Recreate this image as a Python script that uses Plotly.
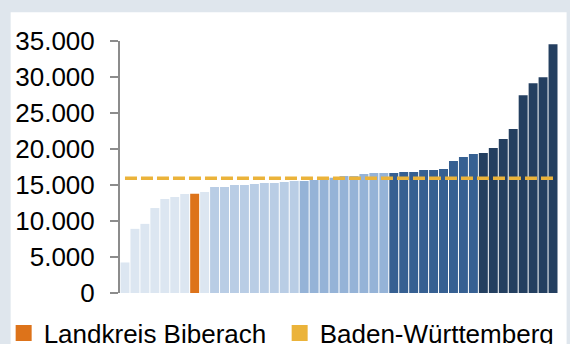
import plotly.graph_objects as go

# ---- data ----
ranks = list(range(1, 45))  # 44 Stadt- und Landkreise, sorted ascending
values = [4240, 8910, 9600, 11800, 13070, 13350, 13760, 13780, 14040,
          14730, 14730, 15000, 15000, 15150, 15280, 15280, 15420, 15560,
          15560, 15700, 15880, 16020, 16260, 16260, 16530, 16670, 16670,
          16670, 16810, 16810, 17090, 17090, 17220, 18330, 18890, 19300,
          19440, 20130, 21380, 22770, 27480, 29140, 29970, 34540]
highlight_rank = 8  # Landkreis Biberach
bw_value = 15930    # Baden-Württemberg
legend_names = ["Landkreis Biberach", "Baden-Württemberg"]
y_ticks = [0, 5000, 10000, 15000, 20000, 25000, 30000, 35000]

# ---- style ----
group_colors = ["#dce6f1", "#b9cde5", "#95b3d7", "#366092", "#243f60"]
orange = "#dd731a"
yellow = "#ebb33a"
font_family = "Liberation Sans, Arial, sans-serif"

bar_colors = []
for r in ranks:
    if r == highlight_rank:
        bar_colors.append(orange)
    else:
        bar_colors.append(group_colors[min((r - 1) // 9, 4)])

W, H = 570, 344
ml, mr, mt, mb = 119.5, 11.9, 40.7, 50.7
pw, ph = W - ml - mr, H - mt - mb

def px_x(x):
    return (x - ml) / pw

def px_y(y):
    return (H - mb - y) / ph

fig = go.Figure()
fig.add_trace(go.Bar(x=ranks, y=values, marker=dict(color=bar_colors, line=dict(width=0)),
                     showlegend=False, hoverinfo="y"))
fig.add_trace(go.Scatter(x=ranks, y=[bw_value] * len(ranks), mode="lines",
                         line=dict(color=yellow, width=3.5, dash="12px,4px"),
                         showlegend=False, hoverinfo="skip"))
fig.add_trace(go.Scatter(x=[None], y=[None], mode="markers", name=legend_names[0],
                         marker=dict(symbol="square", size=16, color=orange),
                         legendwidth=231))
fig.add_trace(go.Scatter(x=[None], y=[None], mode="markers", name=legend_names[1],
                         marker=dict(symbol="square", size=16, color=yellow),
                         legendwidth=228))

fig.update_layout(
    width=W, height=H,
    margin=dict(l=ml, r=mr, t=mt, b=mb, pad=0, autoexpand=False),
    paper_bgcolor="#dfe6ed", plot_bgcolor="rgba(0,0,0,0)",
    font=dict(family=font_family, color="#000000", size=26),
    separators=",.",
    bargap=0.1,
    showlegend=True,
    legend=dict(orientation="h", x=px_x(3), xanchor="left", y=px_y(310), yanchor="top",
                font=dict(size=26, family=font_family, color="#000000"),
                bgcolor="rgba(0,0,0,0)", borderwidth=0, itemwidth=30,
                traceorder="normal"),
    shapes=[dict(type="rect", xref="paper", yref="paper",
                 x0=px_x(10), x1=px_x(566.7), y0=px_y(360), y1=px_y(12),
                 fillcolor="#ffffff", line=dict(width=0), layer="below")],
    xaxis=dict(range=[0.5, 44.5], showticklabels=False, showline=False, showgrid=False,
               zeroline=False, ticks=""),
    yaxis=dict(range=[0, 35000], tickvals=y_ticks, tickformat=",d", showgrid=False,
               zeroline=False, showline=True, linecolor="#8c8c8c", linewidth=2,
               ticks="outside", ticklen=8, tickwidth=2, tickcolor="#8c8c8c",
               ticklabelstandoff=10, tickfont=dict(size=26, family=font_family, color="#000000")),
)

fig.write_html("out.html", config={"displayModeBar": False},
               post_script="document.body.style.margin='0';document.body.style.overflow='hidden';")
